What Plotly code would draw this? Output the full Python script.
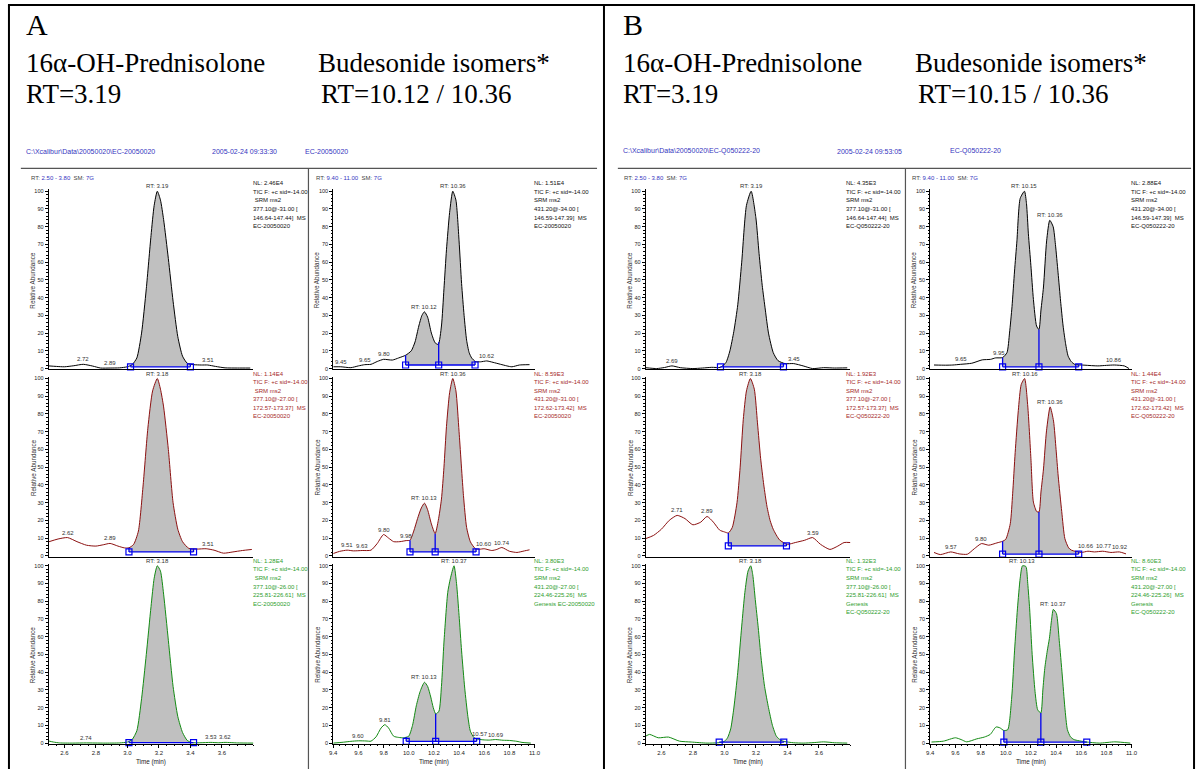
import numpy as np
import plotly.graph_objects as go

W, H = 1204, 771

# ---------------- axis settings ----------------
pred_range = [2.5, 3.8]
bud_range = [9.4, 11.0]
pred_ticks = [2.6, 2.8, 3.0, 3.2, 3.4, 3.6]
bud_ticks = [9.4, 9.6, 9.8, 10.0, 10.2, 10.4, 10.6, 10.8, 11.0]
y_ticks = [0, 10, 20, 30, 40, 50, 60, 70, 80, 90, 100]

# ---------------- A : 16a-OH-prednisolone ----------------
a_l1_x = [2.50, 2.55, 2.60, 2.66, 2.72, 2.78, 2.83, 2.89, 2.95, 3.00, 3.03, 3.06, 3.09, 3.12, 3.15, 3.17, 3.19, 3.21, 3.23, 3.26, 3.29, 3.32, 3.35, 3.38, 3.42, 3.47, 3.51, 3.56, 3.62, 3.70, 3.78]
a_l1_y = [1.5, 1.2, 1.0, 1.6, 2.4, 1.4, 0.3, 0.3, 0.4, 1.0, 2.2, 6, 20, 45, 75, 92, 100, 95, 84, 62, 38, 18, 7, 3, 2.2, 2.0, 2.0, 1.2, 0.4, 0.3, 0.3]
a_l1_bx = [3.02, 3.40]
a_l1_by = [1.0, 1.0]
a_l1_lab_x = [3.19, 2.72, 2.89, 3.51]
a_l1_lab_y = [100, 2.4, 0.3, 2.0]
a_l1_lab_t = ["RT: 3.19", "2.72", "2.89", "3.51"]
a_l1_info = ["NL: 2.46E4", "TIC F: +c sid=-14.00", " SRM ms2", "377.10@-31.00 [", "146.64-147.44]  MS", "EC-20050020"]

a_l2_x = [2.50, 2.56, 2.62, 2.68, 2.74, 2.80, 2.85, 2.89, 2.94, 2.98, 3.01, 3.04, 3.07, 3.10, 3.13, 3.16, 3.19, 3.21, 3.23, 3.26, 3.29, 3.32, 3.35, 3.39, 3.44, 3.50, 3.55, 3.61, 3.67, 3.73, 3.79]
a_l2_y = [7.9, 9.5, 10.3, 8.0, 6.0, 5.5, 6.3, 7.0, 5.5, 4.5, 4.5, 6.5, 14, 40, 72, 93, 100, 94, 84, 60, 30, 15, 8, 4.2, 3.8, 4.0, 3.2, 1.5, 2.2, 3.0, 3.6]
a_l2_bx = [3.01, 3.42]
a_l2_by = [2.2, 2.2]
a_l2_lab_x = [3.19, 2.62, 2.89, 3.51]
a_l2_lab_y = [100, 10.3, 7.0, 4.0]
a_l2_lab_t = ["RT: 3.18", "2.62", "2.89", "3.51"]
a_l2_info = ["NL: 1.14E4", "TIC F: +c sid=-14.00", " SRM ms2", "377.10@-27.00 [", "172.57-173.37]  MS", "EC-20050020"]

a_l3_x = [2.50, 2.53, 2.57, 2.65, 2.74, 2.85, 2.95, 3.00, 3.03, 3.06, 3.09, 3.12, 3.15, 3.17, 3.19, 3.21, 3.23, 3.26, 3.29, 3.32, 3.35, 3.38, 3.41, 3.46, 3.53, 3.58, 3.62, 3.70, 3.80]
a_l3_y = [1.2, 0.6, 0.1, 0.0, 0.1, 0.0, 0.1, 0.6, 2.0, 7, 25, 50, 77, 93, 100, 97, 84, 58, 32, 15, 6, 1.5, 0.3, 0.2, 0.4, 0.2, 0.4, 0.1, 0.0]
a_l3_bx = [3.01, 3.42]
a_l3_by = [0.3, 0.3]
a_l3_lab_x = [3.19, 2.74, 3.53, 3.62]
a_l3_lab_y = [100, 0.1, 0.4, 0.4]
a_l3_lab_t = ["RT: 3.18", "2.74", "3.53", "3.62"]
a_l3_info = ["NL: 1.28E4", "TIC F: +c sid=-14.00", " SRM ms2", "377.10@-26.00 [", "225.81-226.61]  MS", "EC-20050020"]

# ---------------- A : budesonide isomers ----------------
a_r1_x = [9.40, 9.46, 9.54, 9.60, 9.65, 9.70, 9.75, 9.80, 9.87, 9.92, 9.975, 10.02, 10.05, 10.08, 10.105, 10.125, 10.15, 10.18, 10.21, 10.235, 10.26, 10.28, 10.30, 10.325, 10.35, 10.375, 10.40, 10.42, 10.44, 10.46, 10.48, 10.50, 10.53, 10.57, 10.62, 10.67, 10.73, 10.78, 10.82, 10.88, 10.96]
a_r1_y = [1.0, 1.0, 0.5, 1.5, 2.2, 2.4, 4.0, 5.2, 4.8, 6.0, 7.5, 10, 15, 24, 30, 32, 29, 20, 14.5, 13.6, 24, 45, 67, 88, 100, 95, 72, 48, 30, 16, 9, 6, 4.0, 3.8, 4.3, 3.5, 2.4, 1.5, 1.0, 2.0, 2.2]
a_r1_bx = [9.975, 10.238, 10.527]
a_r1_by = [2.0, 2.0, 2.0]
a_r1_lab_x = [10.35, 10.125, 9.46, 9.65, 9.80, 10.62]
a_r1_lab_y = [100, 32, 1.0, 2.2, 5.2, 4.3]
a_r1_lab_t = ["RT: 10.36", "RT: 10.12", "9.45", "9.65", "9.80", "10.62"]
a_r1_info = ["NL: 1.51E4", "TIC F: +c sid=-14.00", "SRM ms2", "431.20@-34.00 [", "146.59-147.39]  MS", "EC-20050020"]

a_r2_x = [9.40, 9.45, 9.51, 9.56, 9.63, 9.70, 9.75, 9.80, 9.84, 9.88, 9.93, 9.98, 10.01, 10.04, 10.07, 10.10, 10.125, 10.15, 10.18, 10.21, 10.235, 10.26, 10.28, 10.30, 10.325, 10.35, 10.375, 10.40, 10.435, 10.46, 10.49, 10.53, 10.56, 10.60, 10.66, 10.70, 10.74, 10.80, 10.86, 10.92, 10.96]
a_r2_y = [1.3, 2.5, 3.2, 2.8, 3.0, 3.2, 7, 12, 10, 8.0, 8.0, 8.6, 8.8, 14, 21, 27, 29.7, 26, 18, 12.5, 20, 32, 50, 73, 92, 100, 93, 70, 34, 16, 7.9, 4.0, 3.7, 4.0, 3.0, 3.6, 4.7, 2.6, 1.9, 2.8, 3.4]
a_r2_bx = [10.01, 10.21, 10.535]
a_r2_by = [2.2, 2.2, 2.2]
a_r2_lab_x = [10.35, 10.125, 9.51, 9.63, 9.80, 9.98, 10.60, 10.74]
a_r2_lab_y = [100, 29.7, 3.2, 3.0, 12, 8.6, 4.0, 4.7]
a_r2_lab_t = ["RT: 10.36", "RT: 10.13", "9.51", "9.63", "9.80", "9.98", "10.60", "10.74"]
a_r2_info = ["NL: 8.59E3", "TIC F: +c sid=-14.00", "SRM ms2", "431.20@-31.00 [", "172.62-173.42]  MS", "EC-20050020"]

a_r3_x = [9.40, 9.48, 9.54, 9.60, 9.66, 9.70, 9.74, 9.78, 9.81, 9.84, 9.88, 9.92, 9.96, 10.00, 10.03, 10.06, 10.09, 10.125, 10.15, 10.175, 10.195, 10.215, 10.24, 10.26, 10.28, 10.31, 10.33, 10.36, 10.38, 10.40, 10.42, 10.445, 10.47, 10.49, 10.52, 10.55, 10.60, 10.64, 10.69, 10.75, 10.80, 10.86, 10.90, 10.97]
a_r3_y = [0.0, 0.5, 1.0, 1.3, 1.2, 1.1, 3.5, 8.5, 10.4, 8.5, 3.9, 3.2, 3.0, 3.9, 10, 21, 29, 34.3, 32, 26, 20, 16.4, 18, 32, 57, 85, 92.5, 100, 90, 72, 52, 31, 15, 6.7, 3.0, 2.2, 1.8, 1.7, 2.0, 1.6, 1.5, 1.0, 0.4, 0.0]
a_r3_bx = [9.98, 10.214, 10.54]
a_r3_by = [1.0, 1.0, 1.0]
a_r3_lab_x = [10.36, 10.125, 9.60, 9.81, 10.57, 10.69]
a_r3_lab_y = [100, 34.3, 1.3, 10.4, 2.2, 2.0]
a_r3_lab_t = ["RT: 10.37", "RT: 10.13", "9.60", "9.81", "10.57", "10.69"]
a_r3_info = ["NL: 3.80E3", "TIC F: +c sid=-14.00", "SRM ms2", "431.20@-27.00 [", "224.46-225.26]  MS", "Genesis EC-20050020"]

# ---------------- B : 16a-OH-prednisolone ----------------
b_l1_x = [2.50, 2.57, 2.62, 2.667, 2.72, 2.80, 2.86, 2.92, 2.975, 3.01, 3.035, 3.06, 3.085, 3.11, 3.14, 3.17, 3.20, 3.22, 3.24, 3.26, 3.28, 3.31, 3.34, 3.385, 3.44, 3.50, 3.56, 3.63, 3.70, 3.78]
b_l1_y = [0.5, 0.0, 0.6, 1.5, 0.5, 0.0, 0.3, 0.7, 0.7, 3.4, 10, 21, 36, 60, 92, 100, 85, 65, 47, 33, 20, 9, 4.5, 2.8, 2.8, 1.5, 0.0, 0.5, 0.3, 0.4]
b_l1_bx = [2.975, 3.375]
b_l1_by = [1.0, 1.0]
b_l1_lab_x = [3.17, 2.667, 3.44]
b_l1_lab_y = [100, 1.5, 2.8]
b_l1_lab_t = ["RT: 3.19", "2.69", "3.45"]
b_l1_info = ["NL: 4.35E3", "TIC F: +c sid=-14.00", "SRM ms2", "377.10@-31.00 [", "146.64-147.44]  MS", "EC-Q050222-20"]

b_l2_x = [2.50, 2.55, 2.60, 2.65, 2.70, 2.75, 2.80, 2.85, 2.89, 2.93, 2.97, 3.00, 3.025, 3.05, 3.08, 3.10, 3.12, 3.14, 3.165, 3.19, 3.21, 3.23, 3.25, 3.27, 3.29, 3.31, 3.35, 3.40, 3.45, 3.51, 3.56, 3.61, 3.67, 3.72, 3.76, 3.80]
b_l2_y = [9.7, 11.5, 15, 20, 22.8, 21, 17.5, 19, 22.2, 19, 14.5, 13.5, 12.9, 16, 30, 50, 77, 93, 100, 94, 75, 55, 40, 28, 20, 15, 9, 6.5, 7.5, 8.8, 10.3, 6.5, 3.6, 5.5, 7.5, 7.5]
b_l2_bx = [3.025, 3.394]
b_l2_by = [5.6, 5.6]
b_l2_lab_x = [3.165, 2.70, 2.89, 3.56]
b_l2_lab_y = [100, 22.8, 22.2, 10.3]
b_l2_lab_t = ["RT: 3.18", "2.71", "2.89", "3.59"]
b_l2_info = ["NL: 1.92E3", "TIC F: +c sid=-14.00", "SRM ms2", "377.10@-27.00 [", "172.57-173.37]  MS", "EC-Q050222-20"]

b_l3_x = [2.50, 2.525, 2.58, 2.645, 2.715, 2.79, 2.89, 2.96, 3.00, 3.02, 3.04, 3.06, 3.085, 3.11, 3.13, 3.15, 3.167, 3.18, 3.196, 3.215, 3.233, 3.255, 3.28, 3.305, 3.33, 3.355, 3.38, 3.44, 3.50, 3.57, 3.63, 3.70, 3.78]
b_l3_y = [3.9, 4.9, 3.0, 3.4, 1.1, 0.6, 0.0, 0.2, 1.0, 3.0, 8, 19.8, 40, 66, 85, 97, 100, 95, 81, 65, 48, 32, 20, 10, 3.9, 1.8, 0.9, 0.2, 0.0, 0.3, 0.7, 0.2, 0.0]
b_l3_bx = [2.967, 3.377]
b_l3_by = [0.5, 0.5]
b_l3_lab_x = [3.167]
b_l3_lab_y = [100]
b_l3_lab_t = ["RT: 3.18"]
b_l3_info = ["NL: 1.32E3", "TIC F: +c sid=-14.00", "SRM ms2", "377.10@-26.00 [", "225.81-226.61]  MS", "Genesis", "EC-Q050222-20"]

# ---------------- B : budesonide isomers ----------------
b_r1_x = [9.43, 9.52, 9.58, 9.642, 9.73, 9.813, 9.88, 9.918, 9.975, 10.01, 10.03, 10.05, 10.07, 10.089, 10.115, 10.149, 10.165, 10.18, 10.20, 10.22, 10.245, 10.264, 10.28, 10.30, 10.325, 10.35, 10.377, 10.395, 10.416, 10.436, 10.456, 10.476, 10.496, 10.52, 10.548, 10.63, 10.732, 10.80, 10.863, 10.942, 10.98]
b_r1_y = [2.0, 1.9, 2.0, 2.4, 3.0, 4.9, 5.2, 6.0, 6.2, 9, 20, 35, 55, 72, 96, 100, 93, 76, 58, 39, 24, 22, 33, 46, 72, 83.6, 80, 70, 54, 38, 24, 14, 7, 4, 2.4, 1.9, 1.5, 1.8, 2.0, 1.5, 0.0]
b_r1_bx = [9.975, 10.264, 10.58]
b_r1_by = [1.0, 1.0, 1.0]
b_r1_lab_x = [10.149, 10.35, 9.642, 9.95, 10.863]
b_r1_lab_y = [100, 83.6, 2.4, 6.1, 2.0]
b_r1_lab_t = ["RT: 10.15", "RT: 10.36", "9.65", "9.95", "10.86"]
b_r1_info = ["NL: 2.88E4", "TIC F: +c sid=-14.00", "SRM ms2", "431.20@-34.00 [", "146.59-147.39]  MS", "EC-Q050222-20"]

b_r2_x = [9.43, 9.48, 9.563, 9.63, 9.695, 9.75, 9.807, 9.865, 9.93, 9.975, 10.0, 10.036, 10.055, 10.075, 10.10, 10.123, 10.15, 10.175, 10.20, 10.22, 10.246, 10.264, 10.28, 10.30, 10.324, 10.353, 10.38, 10.40, 10.417, 10.445, 10.47, 10.50, 10.522, 10.60, 10.653, 10.705, 10.771, 10.836, 10.903, 10.956]
b_r2_y = [1.9, 0.7, 2.2, 1.1, 0.9, 4, 6.9, 6.0, 7.3, 8.2, 9.3, 18.1, 35, 58.3, 82, 96.6, 100, 84.5, 55, 30.3, 25, 24.7, 36, 49, 70.5, 84, 76, 60, 45, 25, 9.7, 4.5, 3.2, 1.9, 2.6, 2.2, 2.6, 1.9, 2.2, 1.1]
b_r2_bx = [9.975, 10.264, 10.58]
b_r2_by = [1.0, 1.0, 1.0]
b_r2_lab_x = [10.15, 10.353, 9.563, 9.807, 10.64, 10.78, 10.91]
b_r2_lab_y = [100, 84, 2.2, 6.9, 2.6, 2.6, 2.2]
b_r2_lab_t = ["RT: 10.16", "RT: 10.36", "9.57", "9.80", "10.66", "10.77", "10.92"]
b_r2_info = ["NL: 1.44E4", "TIC F: +c sid=-14.00", "SRM ms2", "431.20@-31.00 [", "172.62-173.42]  MS", "EC-Q050222-20"]

b_r3_x = [9.41, 9.505, 9.60, 9.645, 9.69, 9.77, 9.83, 9.877, 9.923, 9.954, 9.985, 10.016, 10.047, 10.07, 10.093, 10.115, 10.133, 10.16, 10.175, 10.19, 10.21, 10.233, 10.254, 10.279, 10.295, 10.31, 10.33, 10.347, 10.365, 10.378, 10.403, 10.425, 10.449, 10.47, 10.49, 10.515, 10.542, 10.635, 10.743, 10.867, 10.99]
b_r3_y = [0.6, 1.1, 3.0, 2.0, 0.7, 2.4, 3.4, 4.9, 9.1, 8.6, 7.1, 7.6, 25.4, 52, 75.7, 93, 100, 99.6, 90, 75.7, 50, 29, 18.8, 17, 30, 42, 52, 59, 70, 75.4, 73, 58, 38.4, 20, 7.6, 3.5, 2.0, 0.7, 0.0, 0.7, 0.0]
b_r3_bx = [9.985, 10.279, 10.644]
b_r3_by = [0.5, 0.5, 0.5]
b_r3_lab_x = [10.133, 10.378]
b_r3_lab_y = [100, 75.4]
b_r3_lab_t = ["RT: 10.13", "RT: 10.37"]
b_r3_info = ["NL: 8.60E3", "TIC F: +c sid=-14.00", "SRM ms2", "431.20@-27.00 [", "224.46-225.26]  MS", "Genesis", "EC-Q050222-20"]

# ---------------- styling ----------------
SERIF = "Liberation Serif, Times New Roman, serif"
SANS = "Liberation Sans, Arial, sans-serif"
TRACE_COL = ["#000000", "#8b1010", "#138a13"]
TEXT_COL = ["#111111", "#a52a2a", "#2e9e2e"]
BLUE = "#0000ee"
HDR_BLUE = "#3535c0"
FILL = "#c0c0c0"

col_px = {"AL": (45, 251.5), "AR": (332, 535), "BL": (647, 853.5), "BR": (934, 1137)}
col_rng = {"AL": pred_range, "AR": bud_range, "BL": pred_range, "BR": bud_range}
col_ticks = {"AL": pred_ticks, "AR": bud_ticks, "BL": pred_ticks, "BR": bud_ticks}
info_x = {"AL": 250, "AR": 533, "BL": 848, "BR": 1135}
row_top = [191, 379, 567]
row_bot = [369, 557, 745]
info_y = [183, 374, 562]
INFO_STEP = 8.6
Y0, Y1 = -0.5, 101.0

panels = [
    ("AL", 0, a_l1_x, a_l1_y, a_l1_bx, a_l1_by, a_l1_lab_x, a_l1_lab_y, a_l1_lab_t, a_l1_info),
    ("AL", 1, a_l2_x, a_l2_y, a_l2_bx, a_l2_by, a_l2_lab_x, a_l2_lab_y, a_l2_lab_t, a_l2_info),
    ("AL", 2, a_l3_x, a_l3_y, a_l3_bx, a_l3_by, a_l3_lab_x, a_l3_lab_y, a_l3_lab_t, a_l3_info),
    ("AR", 0, a_r1_x, a_r1_y, a_r1_bx, a_r1_by, a_r1_lab_x, a_r1_lab_y, a_r1_lab_t, a_r1_info),
    ("AR", 1, a_r2_x, a_r2_y, a_r2_bx, a_r2_by, a_r2_lab_x, a_r2_lab_y, a_r2_lab_t, a_r2_info),
    ("AR", 2, a_r3_x, a_r3_y, a_r3_bx, a_r3_by, a_r3_lab_x, a_r3_lab_y, a_r3_lab_t, a_r3_info),
    ("BL", 0, b_l1_x, b_l1_y, b_l1_bx, b_l1_by, b_l1_lab_x, b_l1_lab_y, b_l1_lab_t, b_l1_info),
    ("BL", 1, b_l2_x, b_l2_y, b_l2_bx, b_l2_by, b_l2_lab_x, b_l2_lab_y, b_l2_lab_t, b_l2_info),
    ("BL", 2, b_l3_x, b_l3_y, b_l3_bx, b_l3_by, b_l3_lab_x, b_l3_lab_y, b_l3_lab_t, b_l3_info),
    ("BR", 0, b_r1_x, b_r1_y, b_r1_bx, b_r1_by, b_r1_lab_x, b_r1_lab_y, b_r1_lab_t, b_r1_info),
    ("BR", 1, b_r2_x, b_r2_y, b_r2_bx, b_r2_by, b_r2_lab_x, b_r2_lab_y, b_r2_lab_t, b_r2_info),
    ("BR", 2, b_r3_x, b_r3_y, b_r3_bx, b_r3_by, b_r3_lab_x, b_r3_lab_y, b_r3_lab_t, b_r3_info),
]

fig = go.Figure()
layout = dict(
    width=W, height=H, autosize=False,
    margin=dict(l=0, r=0, t=0, b=0),
    paper_bgcolor="white", plot_bgcolor="white",
    showlegend=False,
)
annotations = []
shapes = []


def px2x(p):
    return p / W


def px2y(p):
    return 1 - p / H


for i, (col, row, xs, ys, bx, by, lx, ly, lt, info) in enumerate(panels):
    n = i + 1
    xa = "xaxis" if n == 1 else f"xaxis{n}"
    ya = "yaxis" if n == 1 else f"yaxis{n}"
    xr = "x" if n == 1 else f"x{n}"
    yr = "y" if n == 1 else f"y{n}"
    c0, c1 = col_px[col]
    top, bot = row_top[row], row_bot[row]
    unit = (bot - top) / 100.0
    dom_bot = bot - Y0 * unit
    dom_top = top - (Y1 - 100) * unit
    bottom_row = row == 2
    layout[xa] = dict(
        domain=[px2x(c0), px2x(c1)], range=col_rng[col], anchor=yr,
        showline=True, linecolor="black", linewidth=1, showgrid=False, zeroline=False,
        tickvals=col_ticks[col] if bottom_row else [],
        ticktext=[f"{v:.1f}" for v in col_ticks[col]] if bottom_row else [],
        ticks="outside" if bottom_row else "", ticklen=3, tickcolor="black",
        showticklabels=bottom_row,
        tickfont=dict(family=SANS, size=6, color="#222"),
        minor=dict(dtick=0.05, tick0=2.5 if col[1] == "L" else 9.4, ticks="outside" if bottom_row else "", ticklen=1.5, tickcolor="black"),
        fixedrange=True,
    )
    layout[ya] = dict(
        domain=[px2y(dom_bot), px2y(dom_top)], range=[Y0, Y1], anchor=xr,
        showline=True, linecolor="black", linewidth=1, showgrid=False, zeroline=False,
        tickvals=y_ticks, ticks="outside", ticklen=3, tickcolor="black",
        tickfont=dict(family=SANS, size=5.5, color="#222"),
        minor=dict(dtick=2, tick0=0, ticks="outside", ticklen=1.5, tickcolor="black"),
        fixedrange=True,
    )

    xs_a = np.array(xs, dtype=float)
    ys_a = np.array(ys, dtype=float)
    color = TRACE_COL[row]

    # baseline (invisible) for fill
    fig.add_trace(go.Scatter(x=[bx[0], bx[-1]], y=[by[0], by[-1]], mode="lines",
                             line=dict(width=0, color="rgba(0,0,0,0)"), xaxis=xr, yaxis=yr,
                             hoverinfo="skip"))
    # integrated area
    inside = (xs_a > bx[0]) & (xs_a < bx[-1])
    seg_x = np.concatenate([[bx[0]], xs_a[inside], [bx[-1]]])
    seg_y = np.concatenate([[np.interp(bx[0], xs_a, ys_a)], ys_a[inside], [np.interp(bx[-1], xs_a, ys_a)]])
    fig.add_trace(go.Scatter(x=seg_x, y=seg_y, mode="lines", fill="tonexty", fillcolor=FILL,
                             line=dict(width=0, shape="spline", smoothing=0.6, color=FILL),
                             xaxis=xr, yaxis=yr, hoverinfo="skip"))
    # chromatogram
    fig.add_trace(go.Scatter(x=xs, y=ys, mode="lines",
                             line=dict(width=1, color=color, shape="spline", smoothing=0.6),
                             xaxis=xr, yaxis=yr, hoverinfo="skip"))
    # vertical drop lines at boundaries
    vx, vy = [], []
    for bxi, byi in zip(bx, by):
        vx += [bxi, bxi, None]
        vy += [byi, float(np.interp(bxi, xs_a, ys_a)), None]
    fig.add_trace(go.Scatter(x=vx, y=vy, mode="lines", line=dict(width=1.3, color=BLUE),
                             xaxis=xr, yaxis=yr, hoverinfo="skip"))
    # baseline with markers
    fig.add_trace(go.Scatter(x=bx, y=by, mode="lines+markers",
                             line=dict(width=1.3, color=BLUE),
                             marker=dict(symbol="square-open", size=6, color=BLUE, line=dict(width=1.2, color=BLUE)),
                             xaxis=xr, yaxis=yr, hoverinfo="skip", cliponaxis=False))

    # peak labels
    for px_, py_, t in zip(lx, ly, lt):
        annotations.append(dict(x=px_, y=py_, xref=xr, yref=yr, text=t, showarrow=False,
                                xanchor="center", yanchor="bottom", yshift=0,
                                font=dict(family=SANS, size=6, color="#333333")))
    # info block, one line each
    for k, line in enumerate(info):
        annotations.append(dict(x=px2x(info_x[col]), y=px2y(info_y[row] + k * INFO_STEP), xref="paper", yref="paper",
                                text=line.replace(" ", "&nbsp;") if line.startswith(" ") else line,
                                showarrow=False, align="left",
                                xanchor="left", yanchor="middle", borderpad=0,
                                font=dict(family=SANS, size=6, color=TEXT_COL[row])))
    # y-axis title
    annotations.append(dict(x=px2x(c0 - 16), y=px2y((top + bot) / 2), xref="paper", yref="paper",
                            text="Relative Abundance", showarrow=False, textangle=-90,
                            xanchor="center", yanchor="middle",
                            font=dict(family=SANS, size=6.3, color="#333333")))
    if bottom_row:
        annotations.append(dict(x=px2x((c0 + c1) / 2), y=px2y(764), xref="paper", yref="paper",
                                text="Time (min)", showarrow=False, xanchor="center", yanchor="middle",
                                font=dict(family=SANS, size=6.3, color="#222")))

# column headers (RT range / smoothing)
hdr = {"AL": (25, "2.50 - 3.80"), "AR": (313, "9.40 - 11.00"), "BL": (623, "2.50 - 3.80"), "BR": (914, "9.40 - 11.00")}
for key, (hx, rng) in hdr.items():
    txt = (f'<span style="color:#444">RT:</span> <span style="color:{HDR_BLUE}">{rng}</span>'
           f'&nbsp;&nbsp;<span style="color:#444">SM:</span> <span style="color:{HDR_BLUE}">7G</span>')
    annotations.append(dict(x=px2x(hx), y=px2y(178), xref="paper", yref="paper", text=txt,
                            showarrow=False, xanchor="left", yanchor="middle",
                            font=dict(family=SANS, size=6)))

# file headers
file_hdr = [
    (20, "C:\\Xcalibur\\Data\\20050020\\EC-20050020"),
    (208, "2005-02-24 09:33:30"),
    (302, "EC-20050020"),
    (622, "C:\\Xcalibur\\Data\\20050020\\EC-Q050222-20"),
    (838, "2005-02-24 09:53:05"),
    (952, "EC-Q050222-20"),
]
for hx, t in file_hdr:
    annotations.append(dict(x=px2x(hx), y=px2y(151), xref="paper", yref="paper", text=t,
                            showarrow=False, xanchor="left", yanchor="middle",
                            font=dict(family=SANS, size=7, color=HDR_BLUE)))

# big titles
big = [
    (20, 24, "A", 30), (622, 24, "B", 30),
    (20, 62, "16\u03b1-OH-Prednisolone", 27), (20, 93, "RT=3.19", 27),
    (315, 62, "Budesonide isomers*", 27), (318, 93, "RT=10.12 / 10.36", 27),
    (622, 62, "16\u03b1-OH-Prednisolone", 27), (622, 93, "RT=3.19", 27),
    (917, 62, "Budesonide isomers*", 27), (920, 93, "RT=10.15 / 10.36", 27),
]
for bxp, byp, t, s in big:
    annotations.append(dict(x=px2x(bxp), y=px2y(byp), xref="paper", yref="paper", text=t,
                            showarrow=False, xanchor="left", yanchor="middle",
                            font=dict(family=SERIF, size=s, color="black")))


def hline(y, x0, x1, color, w):
    shapes.append(dict(type="line", xref="paper", yref="paper", x0=px2x(x0), x1=px2x(x1),
                       y0=px2y(y), y1=px2y(y), line=dict(color=color, width=w)))


def vline(x, y0, y1, color, w):
    shapes.append(dict(type="line", xref="paper", yref="paper", x0=px2x(x), x1=px2x(x),
                       y0=px2y(y0), y1=px2y(y1), line=dict(color=color, width=w)))


hline(4, 4, 1201, "black", 2)
vline(5, 4, 771, "black", 2)
vline(605, 4, 771, "black", 2)
vline(1200, 4, 771, "black", 2)
hline(168, 17, 598, "#555555", 1.2)
hline(168, 619, 1197, "#555555", 1.2)
vline(307, 168, 771, "#555555", 1.2)
vline(909, 168, 771, "#555555", 1.2)

layout["annotations"] = annotations
layout["shapes"] = shapes
fig.update_layout(**layout)
fig.write_html("out.html", config={"displayModeBar": False, "staticPlot": True},
               post_script="document.body.style.margin='0px';document.body.style.overflow='hidden';")
